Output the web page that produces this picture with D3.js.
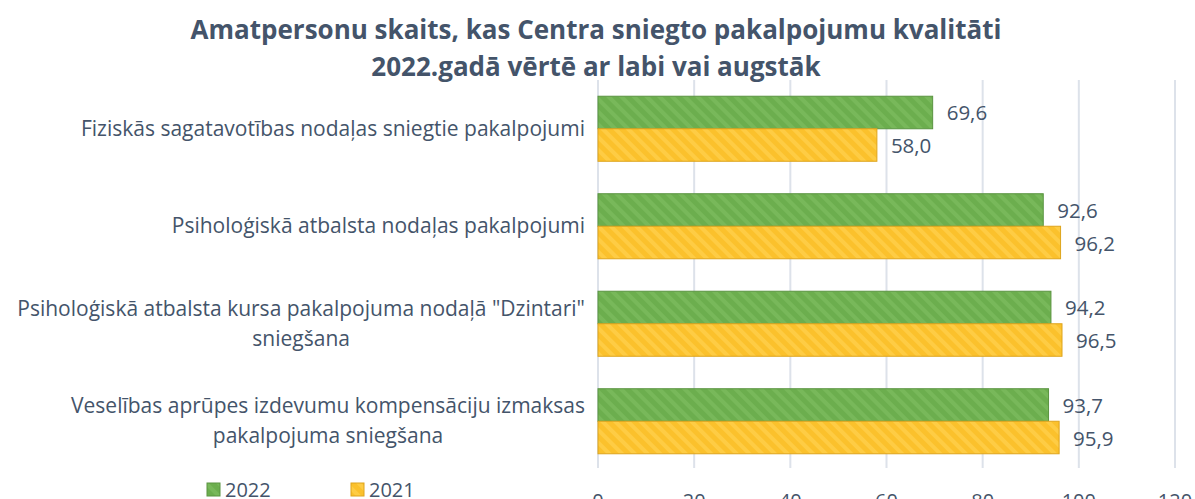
<!DOCTYPE html>
<html>
<head>
<meta charset="utf-8">
<script src="https://cdn.jsdelivr.net/npm/d3@7"></script>
<style>
  body { margin: 0; background: #fff; }
  svg { display: block; font-family: "Open Sans", "Noto Sans", sans-serif; }
</style>
</head>
<body>
<svg></svg>
<script>
const titleLines = ['Amatpersonu skaits, kas Centra sniegto pakalpojumu kvalitāti', '2022.gadā vērtē ar labi vai augstāk'];
const categories = [
    ['Fiziskās sagatavotības nodaļas sniegtie pakalpojumi'],
    ['Psiholoģiskā atbalsta nodaļas pakalpojumi'],
    ['Psiholoģiskā atbalsta kursa pakalpojuma nodaļā "Dzintari"', 'sniegšana'],
    ['Veselības aprūpes izdevumu kompensāciju izmaksas', 'pakalpojuma sniegšana']
];
const values2022 = [69.6, 92.6, 94.2, 93.7];
const values2021 = [58.0, 96.2, 96.5, 95.9];
const seriesNames = ['2022', '2021'];
const xTicks = [0, 20, 40, 60, 80, 100, 120];

const size = {w: 1195, h: 499};
const plot = {l: 598, r: 1175, t: 80, b: 470};
const textColor = '#44546a';
const colors = [
    {fill: '#6cae4e', stripe: '#7dbd60', stroke: '#5a9440'},
    {fill: '#fbc12c', stripe: '#ffd04e', stroke: '#dea41c'}
];

const svg = d3.select('svg')
    .attr('width', size.w)
    .attr('height', size.h);

// stripe patterns
const defs = svg.append('defs');
colors.forEach((c, i) => {
    let p = defs.append('pattern')
        .attr('id', 'pat' + i)
        .attr('patternUnits', 'userSpaceOnUse')
        .attr('width', 9).attr('height', 9)
        .attr('patternTransform', 'rotate(-45)');
    p.append('rect').attr('width', 9).attr('height', 9).attr('fill', c.fill);
    p.append('rect').attr('width', 4).attr('height', 9).attr('fill', c.stripe).attr('opacity', 0.7);
});

const x = d3.scaleLinear().domain([0, 120]).range([plot.l, plot.r]);
const y = d3.scaleBand()
    .domain(d3.range(categories.length))
    .range([plot.t, plot.b])
    .paddingInner(0.333)
    .paddingOuter(0.1665);
const ySub = d3.scaleBand().domain([0, 1]).range([0, y.bandwidth()]);

// title
svg.append('g').selectAll('text')
    .data(titleLines)
    .enter().append('text')
    .attr('x', 596)
    .attr('y', (d, i) => 39 + i * 37)
    .attr('text-anchor', 'middle')
    .attr('font-size', 26)
    .attr('font-weight', 'bold')
    .attr('fill', textColor)
    .text(d => d);

// gridlines
svg.append('g').selectAll('line')
    .data(xTicks)
    .enter().append('line')
    .attr('x1', d => x(d)).attr('x2', d => x(d))
    .attr('y1', plot.t).attr('y2', plot.b - 2)
    .attr('stroke', '#dde2ea')
    .attr('stroke-width', 2);

// x axis labels
svg.append('g').selectAll('text')
    .data(xTicks)
    .enter().append('text')
    .attr('x', d => x(d))
    .attr('y', 508)
    .attr('text-anchor', 'middle')
    .attr('font-size', 20)
    .attr('fill', textColor)
    .text(d => d);

// bars
const series = [values2022, values2021];
const groups = svg.append('g').selectAll('g')
    .data(series)
    .enter().append('g');

groups.selectAll('rect')
    .data((d, si) => d.map((v, ci) => ({v: v, ci: ci, si: si})))
    .enter().append('rect')
    .attr('x', x(0))
    .attr('y', d => y(d.ci) + ySub(d.si))
    .attr('width', d => x(d.v) - x(0))
    .attr('height', ySub.bandwidth())
    .attr('fill', d => 'url(#pat' + d.si + ')')
    .attr('stroke', d => colors[d.si].stroke)
    .attr('stroke-width', 1);

groups.selectAll('text')
    .data((d, si) => d.map((v, ci) => ({v: v, ci: ci, si: si})))
    .enter().append('text')
    .attr('x', d => x(d.v) + 14)
    .attr('y', d => y(d.ci) + ySub(d.si) + ySub.bandwidth() / 2 + 8)
    .attr('font-size', 20.5)
    .attr('fill', textColor)
    .text(d => d3.format('.1f')(d.v).replace('.', ','));

// category labels
const catG = svg.append('g');
categories.forEach((lines, ci) => {
    let t = catG.append('text')
        .attr('font-size', 21)
        .attr('fill', textColor)
        .attr('text-anchor', 'middle');
    let spans = t.selectAll('tspan')
        .data(lines)
        .enter().append('tspan')
        .text(d => d);
    let widths = spans.nodes().map(n => n.getComputedTextLength());
    let cx = 585 - d3.max(widths) / 2;
    let lh = 30;
    let cy = y(ci) + y.bandwidth() / 2 - (lines.length - 1) * lh / 2 + 7;
    spans.attr('x', cx).attr('y', (d, i) => cy + i * lh);
});

// legend
const legend = svg.append('g');
[207, 351].forEach((lx, i) => {
    legend.append('rect')
        .attr('x', lx).attr('y', 483)
        .attr('width', 13).attr('height', 13)
        .attr('fill', 'url(#pat' + i + ')')
        .attr('stroke', colors[i].stroke);
    legend.append('text')
        .attr('x', lx + 18).attr('y', 497)
        .attr('font-size', 20)
        .attr('fill', textColor)
        .text(seriesNames[i]);
});
</script>
</body>
</html>
